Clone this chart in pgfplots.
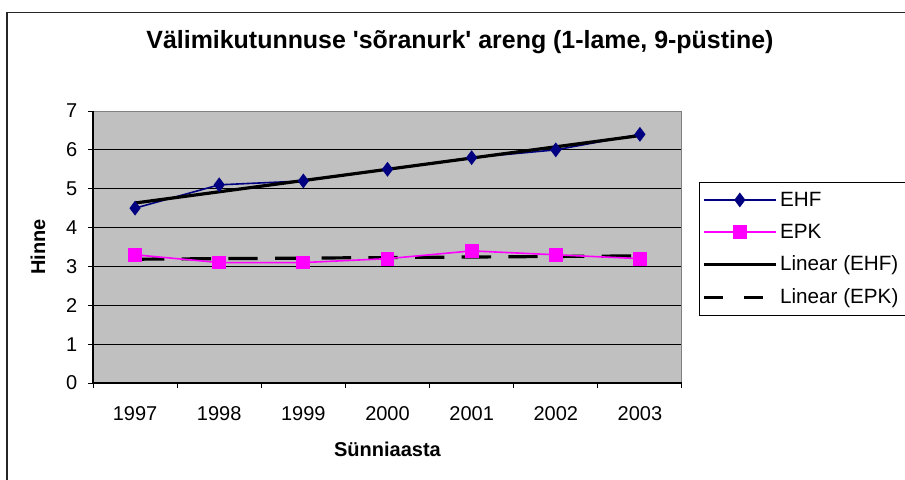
\documentclass[border=0pt]{standalone}
\usepackage{fontspec}
\setmainfont{Liberation Sans}
\usepackage{pgfplots}
\pgfplotsset{compat=1.18}
\definecolor{plotgray}{RGB}{192,192,192}
\definecolor{ehfblue}{RGB}{0,0,128}
\definecolor{epkpink}{RGB}{255,0,255}
\newcommand{\lbl}{\fontsize{15}{18}\selectfont}

\begin{document}
\begin{tikzpicture}
\useasboundingbox (0,0) rectangle (678.75pt,-359.25pt);
\fill[white] (0,0) rectangle (678.75pt,-359.25pt);
% chart frame (only left and top edges fall inside the picture)
\draw[line width=1.2pt,black!85] (5.25pt,-400pt) -- (5.25pt,-9.4pt) -- (700pt,-9.4pt);
\begin{axis}[
  at={(69.75pt,-287.25pt)},anchor=south west,
  scale only axis,width=441.75pt,height=204pt,
  xmin=0.5,xmax=7.5,ymin=0,ymax=7,
  xtick={1,...,7},
  xticklabels={1997,1998,1999,2000,2001,2002,2003},
  minor xtick={0.5,1.5,...,7.5},
  ytick={0,...,7},
  tick pos=left,tick align=outside,
  major tick length=3.75pt,minor tick length=3.75pt,
  x tick style={draw=none},
  minor x tick style={draw=black,line width=0.75pt},
  y tick style={draw=black,line width=0.75pt},
  ymajorgrids,
  major grid style={black,line width=0.75pt},
  axis background/.style={fill=plotgray},
  axis line style={draw=gray,line width=0.75pt},
  ticklabel style={font=\lbl},
  /pgf/number format/assume math mode=true,
  /pgf/number format/1000 sep={},
  xticklabel style={yshift=-10pt},
  yticklabel style={xshift=-4.5pt},
  title={\fontsize{18.7}{22}\selectfont\bfseries Välimikutunnuse \textquotesingle sõranurk\textquotesingle\ areng (1-lame, 9-püstine)},
  title style={at={(axis description cs:0.623,1.225)},anchor=center},
  xlabel={\lbl\bfseries Sünniaasta},
  xlabel style={at={(axis description cs:0.5,-0.243)},anchor=center},
  ylabel={\lbl\bfseries Hinne},
  ylabel style={at={(axis description cs:-0.0934,0.5)},anchor=center,rotate=0},
  legend style={at={(axis description cs:1.029,0.739)},anchor=north west,
    draw=black,line width=0.75pt,fill=white,font=\fontsize{15.5}{18.5}\selectfont,
    row sep=7.9pt,inner xsep=2pt,inner ysep=5pt,
    cells={anchor=west}},
  legend cell align=left,
  legend image code/.code={\draw[mark repeat=2,mark phase=2] plot coordinates {(0pt,0pt) (27pt,0pt) (54pt,0pt)};},
  clip=false,
]
\addplot[ehfblue,line width=1.2pt,mark=diamond*,mark size=4.6pt,
  mark options={solid,fill=ehfblue},forget plot]
  coordinates {(1,4.5) (2,5.1) (3,5.2) (4,5.5) (5,5.8) (6,6.0) (7,6.4)};
\addplot[black,line width=2.4pt,forget plot]
  coordinates {(1,4.632) (7,6.368)};
\addplot[black,line width=2.4pt,dash pattern=on 22pt off 13pt,forget plot]
  coordinates {(1,3.186) (7,3.271)};
\addplot[epkpink,line width=1.2pt,mark=square*,mark size=4.6pt,
  mark options={solid,fill=epkpink},forget plot]
  coordinates {(1,3.3) (2,3.1) (3,3.1) (4,3.2) (5,3.4) (6,3.3) (7,3.2)};
\addlegendimage{ehfblue,line width=1.2pt,mark=diamond*,mark size=4.6pt,mark options={solid,fill=ehfblue}}
\addlegendentry{EHF}
\addlegendimage{epkpink,line width=1.2pt,mark=square*,mark size=4.6pt,mark options={solid,fill=epkpink}}
\addlegendentry{EPK}
\addlegendimage{black,line width=2.4pt}
\addlegendentry{Linear (EHF)\hspace*{20pt}}
\addlegendimage{black,line width=2.4pt,dash pattern=on 14pt off 16pt}
\addlegendentry{Linear (EPK)}
\draw[black,line width=1.1pt] (rel axis cs:0,0) -- (rel axis cs:0,1);
\draw[black,line width=1.1pt] (rel axis cs:0,0) -- (rel axis cs:1,0);
\end{axis}
\end{tikzpicture}
\end{document}
